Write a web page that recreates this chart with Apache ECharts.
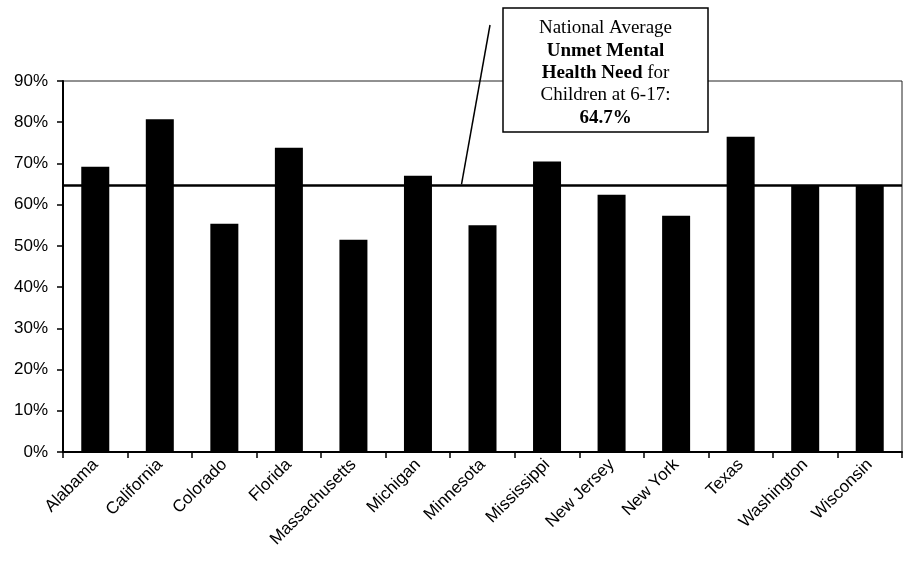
<!DOCTYPE html>
<html>
<head>
<meta charset="utf-8">
<script src="https://cdn.jsdelivr.net/npm/echarts@6/dist/echarts.min.js"></script>
<style>
  html, body { margin: 0; padding: 0; background: #fff; }
  #chart { width: 904px; height: 565px; }
</style>
</head>
<body>
<div id="chart"></div>
<script>
// States compared against the national average of unmet mental health need (children 6-17)
const states = ['Alabama', 'California', 'Colorado', 'Florida', 'Massachusetts', 'Michigan',
  'Minnesota', 'Mississippi', 'New Jersey', 'New York', 'Texas', 'Washington', 'Wisconsin'];
const unmetNeed = [69.2, 80.7, 55.4, 73.8, 51.5, 67.0, 55.0, 70.5, 62.4, 57.3, 76.5, 64.6, 64.5];
const nationalAverage = 64.7;
const yTicks = { min: 0, max: 90, step: 10 };

const chart = echarts.init(document.getElementById('chart'), null, { renderer: 'canvas' });

const axisFont = { fontFamily: '"Liberation Sans", Arial, sans-serif', fontSize: 17, color: '#000' };

chart.setOption({
  animation: false,
  backgroundColor: '#fff',
  grid: {
    left: 63, right: 2, top: 81, bottom: 113,
    show: true, borderColor: '#222', borderWidth: 1, backgroundColor: 'transparent'
  },
  xAxis: {
    type: 'category',
    data: states,
    boundaryGap: true,
    axisLine: { lineStyle: { color: '#000', width: 2 } },
    axisTick: { show: true, alignWithLabel: false, length: 6, lineStyle: { color: '#000', width: 1.5 } },
    axisLabel: Object.assign({ rotate: 45, margin: 10, interval: 0 }, axisFont),
    splitLine: { show: false }
  },
  yAxis: {
    type: 'value',
    min: yTicks.min, max: yTicks.max, interval: yTicks.step,
    axisLine: { show: true, lineStyle: { color: '#000', width: 2 } },
    axisTick: { show: true, length: 6, lineStyle: { color: '#000', width: 1.5 } },
    axisLabel: Object.assign({ formatter: '{value}%', margin: 15 }, axisFont),
    splitLine: { show: false }
  },
  series: [
    {
      // national average reference, drawn beneath the bars
      type: 'line',
      data: [],
      z: 1,
      silent: true,
      markLine: {
        symbol: 'none',
        silent: true,
        label: { show: false },
        lineStyle: { color: '#000', width: 2.5, type: 'solid' },
        data: [{ yAxis: nationalAverage }]
      }
    },
    {
      type: 'bar',
      data: unmetNeed,
      z: 3,
      barWidth: 28,
      itemStyle: { color: '#000' }
    }
  ]
});

// Callout box with leader line pointing at the average line
const avgPt = chart.convertToPixel({ gridIndex: 0 }, [6, nationalAverage]);
const serif = '"Liberation Serif", "Times New Roman", serif';
chart.setOption({
  graphic: [
    {
      type: 'line',
      z: 50,
      shape: { x1: 490, y1: 25, x2: avgPt[0] - 21, y2: avgPt[1] - 1 },
      style: { stroke: '#000', lineWidth: 1.5 }
    },
    {
      type: 'rect',
      z: 60,
      shape: { x: 503, y: 8, width: 205, height: 124 },
      style: { fill: '#fff', stroke: '#000', lineWidth: 1.5 }
    },
    {
      type: 'text',
      z: 61,
      x: 605.5,
      y: 73,
      style: {
        text: [
          'National Average',
          '{b|Unmet Mental}',
          '{b|Health Need} for',
          'Children at 6-17:',
          '{b|' + nationalAverage.toFixed(1) + '%}'
        ].join('\n'),
        align: 'center',
        verticalAlign: 'middle',
        fontFamily: serif,
        fontSize: 19,
        lineHeight: 22.3,
        fill: '#000',
        rich: {
          b: { fontFamily: serif, fontSize: 19, fontWeight: 'bold', lineHeight: 22.3, fill: '#000' }
        }
      }
    }
  ]
});
</script>
</body>
</html>
